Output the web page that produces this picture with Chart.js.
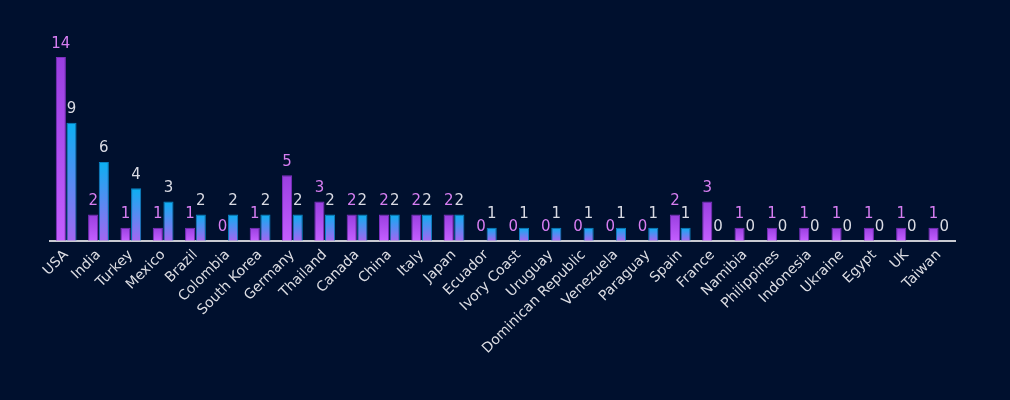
<!DOCTYPE html>
<html>
<head>
<meta charset="utf-8">
<script src="https://cdn.jsdelivr.net/npm/chart.js@4"></script>
<style>
html,body{margin:0;padding:0;background:#00102e;}
#wrap{width:1010px;height:400px;}
</style>
</head>
<body>
<div id="wrap"><canvas id="c" width="1010" height="400"></canvas></div>
<script>
const categories = ["USA","India","Turkey","Mexico","Brazil","Colombia","South Korea","Germany","Thailand","Canada","China","Italy","Japan","Ecuador","Ivory Coast","Uruguay","Dominican Republic","Venezuela","Paraguay","Spain","France","Namibia","Philippines","Indonesia","Ukraine","Egypt","UK","Taiwan"];
const seriesA = [14,2,1,1,1,0,1,5,3,2,2,2,2,0,0,0,0,0,0,2,3,1,1,1,1,1,1,1];
const seriesB = [9,6,4,3,2,2,2,2,2,2,2,2,2,1,1,1,1,1,1,1,0,0,0,0,0,0,0,0];

const FONT = "DejaVu Sans";

function barGradient(topColor, bottomColor) {
  return function(context) {
    const chart = context.chart;
    const y = chart.scales && chart.scales.y;
    if (context.type !== 'data' || !y || y.top === undefined) return topColor;
    const top = y.getPixelForValue(context.raw);
    const base = y.getPixelForValue(0);
    if (!isFinite(top) || !isFinite(base) || Math.abs(base - top) < 0.5) return topColor;
    const g = chart.ctx.createLinearGradient(0, top, 0, base);
    g.addColorStop(0, topColor);
    g.addColorStop(1, bottomColor);
    return g;
  };
}

const labelPlugin = {
  id: 'vals',
  afterDatasetsDraw(chart) {
    const ctx = chart.ctx;
    ctx.save();
    ctx.font = "15px '" + FONT + "'";
    ctx.textAlign = 'center';
    ctx.textBaseline = 'bottom';
    chart.data.datasets.forEach((ds, i) => {
      const meta = chart.getDatasetMeta(i);
      ctx.fillStyle = i === 0 ? '#d77ef2' : '#d9dbe4';
      meta.data.forEach((el, j) => {
        ctx.fillText(String(ds.data[j]), el.x, el.y - 6);
      });
    });
    ctx.restore();
  }
};

new Chart(document.getElementById('c'), {
  type: 'bar',
  data: {
    labels: categories,
    datasets: [
      { data: seriesA, backgroundColor: barGradient('#9a3fe0', '#c35eff'), borderColor: '#7d2fc0', borderWidth: 1, borderSkipped: 'bottom' },
      { data: seriesB, backgroundColor: barGradient('#0bb0f2', '#a266f2'), borderColor: '#0a82c4', borderWidth: 1, borderSkipped: 'bottom' }
    ]
  },
  options: {
    responsive: false,
    animation: false,
    devicePixelRatio: 1,
    categoryPercentage: 0.66,
    barPercentage: 0.95,
    layout: { padding: { top: 44, right: 55, left: 50, bottom: 37 } },
    plugins: { legend: { display: false }, tooltip: { enabled: false } },
    scales: {
      y: { display: false, min: 0, max: 15 },
      x: {
        grid: { display: false, drawTicks: false },
        border: { display: true, color: '#c8cad2', width: 2 },
        ticks: {
          color: '#dcdde3',
          font: { family: FONT, size: 14 },
          maxRotation: 45, minRotation: 45, autoSkip: false, padding: 6
        }
      }
    }
  },
  plugins: [labelPlugin]
});
</script>
</body>
</html>
